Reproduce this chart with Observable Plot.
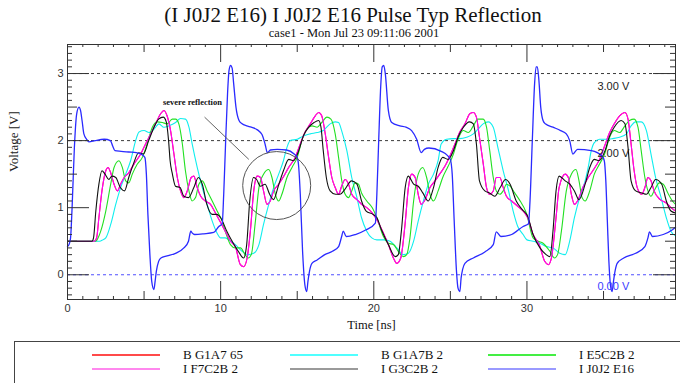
<!DOCTYPE html>
<html><head><meta charset="utf-8">
<script src="https://cdn.jsdelivr.net/npm/d3@7"></script>
<script src="https://cdn.jsdelivr.net/npm/@observablehq/plot@0.6"></script>
<style>
html,body{margin:0;padding:0;background:#fff;}
#wrap{position:relative;width:680px;height:383px;overflow:hidden;background:#fff;}
#wrap svg{position:absolute;left:0;top:0;}
.t{position:absolute;white-space:nowrap;font-family:"Liberation Serif","Times New Roman",serif;color:#111;}
#title{left:0;width:706px;top:4px;text-align:center;font-size:21px;line-height:22px;}
#subtitle{left:0;width:708px;top:27px;text-align:center;font-size:12.5px;line-height:13px;}
#legend{position:absolute;left:14px;top:341px;width:720px;height:80px;border:1px solid #444;box-sizing:border-box;}
.sw{position:absolute;height:2px;width:68px;}
.lt{position:absolute;font-family:"Liberation Serif","Times New Roman",serif;font-size:13px;line-height:14px;color:#111;white-space:nowrap;}
</style></head>
<body><div id="wrap">
<div id="title" class="t">(I J0J2 E16) I J0J2 E16 Pulse Typ Reflection</div>
<div id="subtitle" class="t">case1 - Mon Jul 23 09:11:06 2001</div>
<div id="legend"></div>
</div>
<script>
// ---- data (time ns, voltage V) ----
const seriesBlue = [[0,0.42],[0.1,0.45],[0.2,0.55],[0.3,1.0],[0.45,1.9],[0.6,2.4],[0.75,2.5],[0.85,2.45],[0.95,2.3],[1.07,2.1],[1.25,2.02],[1.4,1.98],[1.8,2.0],[2.4,2.02],[2.8,2.0],[2.95,1.92],[3.1,1.85],[3.5,1.84],[4.0,1.83],[4.5,1.82],[4.8,1.8],[5.05,1.75],[5.15,1.5],[5.25,0.9],[5.38,0.3],[5.5,-0.1],[5.64,-0.22],[5.72,-0.1],[5.8,0.05],[5.95,0.2],[6.1,0.25],[6.5,0.28],[7.05,0.32],[7.6,0.4],[7.9,0.5],[8.05,0.65],[8.15,0.62],[8.3,0.6],[8.9,0.61],[9.55,0.63],[9.88,0.72],[10.1,0.76],[10.2,1.2],[10.32,1.95],[10.45,2.7],[10.55,3.05],[10.65,3.12],[10.75,3.08],[10.85,2.85],[11.0,2.5],[11.2,2.3],[11.4,2.25],[11.7,2.22],[12.0,2.2],[12.4,2.16],[12.7,2.09],[12.9,1.95],[13.05,1.82],[13.25,1.86],[13.7,1.87],[14.3,1.86],[14.8,1.8],[15.0,1.75],[15.1,1.6],[15.2,1.2],[15.35,0.35],[15.5,-0.15],[15.62,-0.25],[15.7,-0.1],[15.8,0.05],[15.96,0.17],[16.3,0.22],[16.8,0.3],[17.3,0.35],[17.7,0.42],[17.9,0.57],[18.0,0.65],[18.2,0.57],[18.8,0.6],[19.5,0.67],[20.1,0.77],[20.2,1.2],[20.32,2.0],[20.45,2.8],[20.55,3.1],[20.65,3.12],[20.75,3.0],[20.95,2.45],[21.17,2.27],[21.7,2.22],[22.1,2.2],[22.47,2.15],[22.8,2.02],[23.1,1.82],[23.3,1.87],[23.6,1.89],[24.4,1.84],[24.8,1.78],[25.0,1.72],[25.12,1.5],[25.25,0.8],[25.4,0.05],[25.5,-0.2],[25.62,-0.25],[25.7,-0.05],[25.8,0.08],[25.95,0.17],[26.5,0.25],[27.25,0.34],[27.8,0.45],[28.0,0.64],[28.3,0.57],[29.0,0.6],[29.75,0.72],[30.1,0.76],[30.2,1.1],[30.35,2.0],[30.5,2.85],[30.6,3.1],[30.68,3.1],[30.78,2.9],[30.9,2.5],[31.05,2.3],[31.2,2.25],[31.7,2.2],[32.2,2.15],[32.57,2.1],[32.79,2.0],[33.0,1.8],[33.3,1.87],[34.2,1.85],[34.9,1.77],[35.05,1.7],[35.15,1.4],[35.25,0.8],[35.35,0.2],[35.45,-0.15],[35.56,-0.25],[35.65,-0.1],[35.75,0.05],[35.89,0.17],[36.32,0.25],[37.1,0.32],[37.7,0.42],[37.9,0.55],[38.0,0.64],[38.2,0.57],[38.9,0.6],[39.5,0.67],[39.7,0.71]];

const seriesBlack = [[0,0.5],[1.6,0.5],[1.7,0.55],[1.85,0.95],[2.05,1.35],[2.25,1.55],[2.45,1.5],[2.7,1.42],[2.9,1.47],[3.15,1.45],[3.45,1.3],[3.72,1.25],[4.0,1.45],[4.3,1.65],[4.65,1.82],[4.95,1.8],[5.3,2.0],[5.65,2.2],[5.95,2.32],[6.25,2.35],[6.45,2.28],[6.6,2.0],[6.7,1.7],[6.85,1.5],[7.05,1.32],[7.35,1.3],[7.6,1.17],[7.9,1.15],[8.25,1.3],[8.55,1.45],[8.8,1.35],[9.1,1.05],[9.45,0.9],[9.75,0.9],[10.0,0.85],[10.4,0.65],[10.75,0.5],[11.15,0.35],[11.5,0.25],[11.7,0.45],[11.9,1.1],[12.15,1.45],[12.35,1.42],[12.6,1.32],[12.9,1.35],[13.2,1.2],[13.45,1.12],[13.8,1.35],[14.1,1.55],[14.45,1.72],[14.75,1.7],[15.1,1.85],[15.4,2.07],[15.75,2.2],[16.1,2.27],[16.4,2.3],[16.55,2.2],[16.7,1.85],[16.9,1.45],[17.15,1.25],[17.5,1.2],[17.8,1.2],[18.1,1.27],[18.55,1.4],[18.9,1.35],[19.2,1.1],[19.5,0.95],[19.95,0.9],[20.2,0.85],[20.5,0.67],[20.95,0.45],[21.4,0.27],[21.6,0.3],[21.8,0.65],[22.05,1.3],[22.25,1.47],[22.6,1.35],[22.9,1.32],[23.2,1.22],[23.55,1.1],[23.9,1.3],[24.2,1.6],[24.5,1.75],[24.85,1.72],[25.2,1.85],[25.5,2.05],[25.85,2.2],[26.25,2.28],[26.5,2.25],[26.7,1.95],[26.9,1.4],[27.25,1.25],[27.55,1.22],[27.9,1.17],[28.25,1.3],[28.6,1.42],[28.9,1.35],[29.3,1.1],[29.7,0.97],[30.05,0.87],[30.4,0.6],[30.85,0.4],[31.25,0.3],[31.5,0.27],[31.7,0.65],[31.9,1.25],[32.1,1.47],[32.5,1.4],[32.8,1.35],[33.1,1.25],[33.4,1.12],[33.8,1.35],[34.1,1.6],[34.4,1.72],[34.7,1.7],[35.1,1.85],[35.4,2.07],[35.7,2.2],[36.15,2.3],[36.4,2.25],[36.6,1.9],[36.8,1.4],[37.1,1.25],[37.5,1.22],[37.8,1.2],[38.1,1.3],[38.4,1.42],[38.8,1.35],[39.1,1.1],[39.4,0.95],[39.7,0.92]];

const seriesMagenta = [[0,0.5],[1.75,0.5],[1.9,0.55],[2.05,0.85],[2.25,1.25],[2.5,1.55],[2.65,1.6],[2.82,1.52],[3.04,1.35],[3.26,1.25],[3.47,1.35],[3.7,1.45],[4.0,1.52],[4.34,1.65],[4.78,1.8],[5.1,1.95],[5.43,2.1],[5.75,2.25],[6.08,2.4],[6.3,2.45],[6.5,2.37],[6.73,2.15],[6.95,1.8],[7.17,1.45],[7.38,1.25],[7.6,1.15],[7.82,1.25],[8.08,1.45],[8.25,1.47],[8.47,1.3],[8.7,1.17],[9.0,1.1],[9.34,1.05],[9.66,0.92],[10.0,0.78],[10.3,0.65],[10.64,0.5],[10.96,0.42],[11.29,0.15],[11.5,0.12],[11.73,0.25],[11.94,0.65],[12.16,1.25],[12.38,1.47],[12.6,1.45],[12.8,1.25],[13.03,1.05],[13.24,1.1],[13.46,1.25],[13.79,1.35],[14.12,1.47],[14.44,1.6],[14.87,1.75],[15.2,1.95],[15.5,2.12],[15.85,2.25],[16.18,2.37],[16.4,2.42],[16.6,2.37],[16.83,2.1],[17.05,1.75],[17.26,1.45],[17.48,1.3],[17.7,1.2],[17.9,1.32],[18.13,1.42],[18.35,1.35],[18.56,1.2],[18.9,1.12],[19.2,1.05],[19.54,1.0],[19.9,0.92],[20.2,0.82],[20.63,0.62],[20.95,0.45],[21.28,0.25],[21.5,0.17],[21.76,0.25],[22.04,0.75],[22.26,1.3],[22.48,1.5],[22.7,1.45],[22.9,1.2],[23.1,1.05],[23.3,1.1],[23.67,1.3],[24.0,1.4],[24.3,1.5],[24.65,1.62],[24.97,1.77],[25.3,1.95],[25.6,2.12],[25.95,2.25],[26.27,2.4],[26.5,2.42],[26.7,2.35],[26.9,2.05],[27.15,1.65],[27.36,1.3],[27.57,1.2],[27.8,1.25],[28.0,1.45],[28.23,1.45],[28.45,1.3],[28.66,1.17],[29.0,1.1],[29.4,1.02],[29.86,0.92],[30.05,0.85],[30.4,0.6],[30.8,0.45],[31.16,0.2],[31.4,0.15],[31.6,0.25],[31.9,0.85],[32.1,1.3],[32.5,1.5],[32.7,1.45],[32.9,1.2],[33.1,1.05],[33.3,1.1],[33.65,1.3],[34.0,1.45],[34.3,1.55],[34.74,1.72],[35.07,1.92],[35.4,2.12],[35.7,2.25],[36.05,2.37],[36.4,2.42],[36.6,2.32],[36.8,1.95],[37.0,1.55],[37.2,1.3],[37.5,1.2],[37.7,1.3],[37.9,1.45],[38.1,1.4],[38.3,1.25],[38.7,1.12],[39.1,1.07],[39.4,1.0],[39.7,0.95]];

const seriesRed = seriesMagenta; // hidden beneath the magenta trace in the reference

const seriesGreen = [[0,0.5],[1.85,0.5],[2.0,0.55],[2.17,0.65],[2.5,0.95],[2.82,1.35],[3.04,1.6],[3.36,1.7],[3.58,1.6],[3.8,1.4],[4.0,1.37],[4.23,1.5],[4.56,1.65],[4.89,1.75],[5.2,1.95],[5.54,2.2],[5.86,2.28],[6.19,2.27],[6.5,2.25],[6.84,2.32],[7.06,2.32],[7.27,2.25],[7.5,1.95],[7.7,1.55],[7.93,1.25],[8.14,1.1],[8.36,1.15],[8.58,1.35],[8.8,1.4],[9.12,1.25],[9.45,1.1],[9.77,0.95],[10.1,0.8],[10.3,0.65],[10.64,0.45],[10.96,0.4],[11.29,0.4],[11.6,0.3],[11.8,0.25],[12.0,0.3],[12.27,0.8],[12.5,1.3],[12.8,1.5],[13.14,1.57],[13.35,1.45],[13.57,1.2],[13.79,1.1],[14.0,1.2],[14.33,1.45],[14.66,1.6],[15.0,1.75],[15.3,2.0],[15.63,2.17],[15.96,2.22],[16.3,2.2],[16.6,2.27],[16.94,2.35],[17.2,2.32],[17.48,2.1],[17.7,1.75],[17.91,1.4],[18.13,1.2],[18.35,1.15],[18.56,1.25],[18.78,1.37],[19.0,1.35],[19.2,1.22],[19.54,1.1],[19.9,1.0],[20.2,0.85],[20.63,0.57],[20.95,0.47],[21.28,0.45],[21.6,0.35],[21.93,0.27],[22.15,0.3],[22.36,0.55],[22.6,1.1],[22.9,1.5],[23.2,1.6],[23.45,1.45],[23.67,1.2],[23.9,1.1],[24.2,1.25],[24.5,1.45],[24.86,1.62],[25.2,1.8],[25.5,2.02],[25.84,2.15],[26.17,2.12],[26.5,2.22],[26.8,2.32],[27.14,2.32],[27.36,2.2],[27.57,1.85],[27.8,1.45],[28.0,1.25],[28.23,1.2],[28.45,1.25],[28.66,1.35],[28.9,1.32],[29.2,1.22],[29.5,1.12],[29.96,0.92],[30.4,0.55],[30.73,0.5],[31.05,0.47],[31.5,0.35],[31.8,0.25],[32.0,0.3],[32.25,0.65],[32.57,1.25],[32.9,1.5],[33.2,1.57],[33.4,1.4],[33.6,1.15],[33.8,1.1],[34.1,1.25],[34.4,1.5],[34.74,1.65],[35.07,1.8],[35.4,2.05],[35.7,2.15],[36.05,2.12],[36.4,2.22],[36.7,2.3],[37.0,2.32],[37.25,2.2],[37.46,1.85],[37.7,1.45],[37.9,1.25],[38.1,1.17],[38.3,1.25],[38.65,1.37],[38.9,1.35],[39.2,1.22],[39.5,1.1],[39.7,1.05]];

const seriesCyan = [[0,0.5],[2.1,0.5],[2.3,0.52],[2.5,0.55],[2.82,0.75],[3.15,1.05],[3.47,1.3],[3.8,1.5],[4.12,1.7],[4.45,2.0],[4.67,2.13],[5.0,2.15],[5.32,2.12],[5.65,2.17],[5.97,2.25],[6.3,2.2],[6.62,2.22],[7.06,2.27],[7.38,2.33],[7.7,2.32],[7.93,2.2],[8.14,1.95],[8.47,1.6],[8.8,1.3],[9.12,1.05],[9.45,0.8],[9.77,0.62],[10.0,0.55],[10.3,0.55],[10.64,0.5],[10.96,0.45],[11.4,0.35],[11.8,0.3],[12.16,0.32],[12.5,0.45],[12.8,0.75],[13.14,1.05],[13.46,1.3],[13.79,1.5],[14.1,1.7],[14.33,1.9],[14.55,2.0],[15.0,2.02],[15.41,2.07],[15.85,2.1],[16.3,2.12],[16.7,2.15],[17.15,2.25],[17.48,2.28],[17.7,2.27],[17.9,2.15],[18.24,1.85],[18.56,1.45],[18.9,1.15],[19.2,0.85],[19.54,0.65],[19.87,0.55],[20.2,0.52],[20.63,0.52],[21.06,0.5],[21.5,0.4],[21.93,0.3],[22.26,0.32],[22.6,0.5],[22.9,0.8],[23.24,1.1],[23.56,1.35],[23.9,1.5],[24.2,1.7],[24.4,1.95],[24.75,2.02],[25.2,2.03],[25.6,2.03],[26.06,2.05],[26.5,2.1],[26.8,2.17],[27.14,2.25],[27.47,2.28],[27.8,2.2],[28.1,1.9],[28.45,1.55],[28.8,1.25],[29.1,0.95],[29.4,0.72],[29.75,0.6],[30.0,0.52],[30.4,0.5],[30.83,0.47],[31.27,0.42],[31.7,0.4],[32.14,0.32],[32.5,0.3],[32.79,0.5],[33.1,0.85],[33.44,1.15],[33.8,1.4],[34.0,1.6],[34.2,1.85],[34.4,1.97],[34.74,2.02],[35.2,2.02],[35.6,2.03],[36.05,2.05],[36.5,2.1],[36.8,2.22],[37.1,2.28],[37.46,2.28],[37.8,2.15],[38.1,1.8],[38.4,1.45],[38.76,1.15],[39.1,0.85],[39.4,0.65],[39.7,0.58]];

const legendNames = ["B G1A7 65","B G1A7B 2","I E5C2B 2","I F7C2B 2","I G3C2B 2","I J0J2 E16"];
const xTickLabels = [0, 10, 20, 30];
const yTickLabels = [0, 1, 2, 3];
const markerLevels = [3, 2];          // black dashed markers
const markerLabels = ["3.00 V", "2.00 V"];
const zeroLevel = [0];
const zeroLabel = ["0.00 V"];
const noteText = ["severe reflection"];
const notePos = [[8.16, 2.57]];
const noteLeader = [[8.95, 2.35, 11.84, 1.72]];
const noteCircle = [[13.66, 1.33]];

// ---- styling ----
const colors = {red:"#ff2020", cyan:"#10eeee", green:"#22e022", magenta:"#ff00ff", black:"#111111", blue:"#2a2aff"};
const legendColors = ["#ff4a4a","#50ffff","#44ee44","#ff88ee","#9a9a9a","#9a9aff"];

const X = d => d[0], Y = d => d[1];
const W = 680, H = 340, mL = 67, mR = 5, mT = 44, mB = 41;
const innerH = H - mT - mB, innerW = W - mL - mR;

const xt = d3.range(0, 40);
const xMinor = xt.filter(d => d % 5 !== 0);
const xMid = xt.filter(d => d % 5 === 0 && d % 10 !== 0);
const xMajor = xt.filter(d => d % 10 === 0 && d > 0);
const yt = d3.range(-3, 35);
const yMinor = yt.filter(i => i % 5 !== 0).map(i => i / 10);
const yMid = yt.filter(i => i % 5 === 0 && i % 10 !== 0).map(i => i / 10);
const yMajor = yt.filter(i => i % 10 === 0).map(i => i / 10);

const tickColor = "#333";
const sansFont = "'Liberation Sans', Arial, sans-serif";
const serifFont = "'Liberation Serif', 'Times New Roman', serif";

function xTicks(data, len) {
  return [
    Plot.tickX(data, {x: d => d, insetTop: innerH - len, stroke: tickColor}),
    Plot.tickX(data, {x: d => d, insetBottom: innerH - len, stroke: tickColor})
  ];
}
function yTicks(data, len) {
  return [
    Plot.tickY(data, {y: d => d, insetRight: innerW - len, stroke: tickColor}),
    Plot.tickY(data, {y: d => d, insetLeft: innerW - len, stroke: tickColor})
  ];
}
const lineOpts = (stroke, w = 1.1) => ({x: X, y: Y, stroke, strokeWidth: w, curve: "monotone-x"});

const chart = Plot.plot({
  width: W, height: H,
  marginLeft: mL, marginRight: mR, marginTop: mT, marginBottom: mB,
  x: {domain: [0, 39.7], axis: null},
  y: {domain: [-0.369, 3.433], axis: null},
  style: {background: "white", fontFamily: sansFont},
  marks: [
    Plot.ruleY(markerLevels, {y: d => d, stroke: "#222", strokeWidth: 0.9, strokeDasharray: "3,3"}),
    Plot.ruleY(zeroLevel, {y: d => d, stroke: "#3a3aff", strokeWidth: 0.9, strokeDasharray: "3,3"}),
    Plot.line(seriesRed, lineOpts(colors.red)),
    Plot.line(seriesCyan, lineOpts(colors.cyan)),
    Plot.line(seriesGreen, lineOpts(colors.green)),
    Plot.line(seriesMagenta, lineOpts(colors.magenta)),
    Plot.line(seriesBlack, lineOpts(colors.black)),
    Plot.line(seriesBlue, lineOpts(colors.blue, 1.3)),
    ...xTicks(xMinor, 3), ...xTicks(xMid, 8), ...xTicks(xMajor, 18),
    ...yTicks(yMinor, 5), ...yTicks(yMid, 10), ...yTicks(yMajor, 22),
    Plot.frame({stroke: tickColor}),
    Plot.text(xTickLabels, {x: d => d, frameAnchor: "bottom", dy: 12, text: d => String(d), fontSize: 11, fill: "#333", fontFamily: sansFont}),
    Plot.text(yTickLabels, {y: d => d, frameAnchor: "left", dx: -10, text: d => String(d), fontSize: 11, fill: "#333", fontFamily: sansFont}),
    Plot.text(["Time [ns]"], {frameAnchor: "bottom", dy: 29, text: d => d, fontSize: 12.5, fill: "#111", fontFamily: serifFont}),
    Plot.text(["Voltage [V]"], {frameAnchor: "left", dx: -54, rotate: -90, text: d => d, fontSize: 13, fill: "#222", fontFamily: serifFont}),
    Plot.text(markerLevels, {x: 35.64, y: d => d, dy: 12.5, text: (d, i) => markerLabels[i], fontSize: 11, fill: "#222", fontFamily: sansFont}),
    Plot.text(zeroLevel, {x: 35.64, y: d => d, dy: 12, text: (d, i) => zeroLabel[i], fontSize: 11, fill: "#3a3aff", fontFamily: sansFont}),
    Plot.text(notePos, {x: X, y: Y, text: (d, i) => noteText[i], fontSize: 8.5, fontWeight: "bold", fill: "#111", fontFamily: serifFont}),
    Plot.link(noteLeader, {x1: d => d[0], y1: d => d[1], x2: d => d[2], y2: d => d[3], stroke: "#555", strokeWidth: 0.9}),
    Plot.dot(noteCircle, {x: X, y: Y, r: 34, fill: "none", stroke: "#555", strokeWidth: 1})
  ]
});
document.getElementById("wrap").insertBefore(chart, document.getElementById("title"));

// legend
const legendSpots = [[92,355],[290,355],[488,355],[92,369],[290,369],[488,369]];
const wrap = document.getElementById("wrap");
legendNames.forEach((name, i) => {
  const [lx, ly] = legendSpots[i];
  const sw = document.createElement("div");
  sw.className = "sw";
  sw.style.left = lx + "px"; sw.style.top = (ly - 1) + "px"; sw.style.background = legendColors[i];
  wrap.appendChild(sw);
  const tx = document.createElement("div");
  tx.className = "lt";
  tx.style.left = (lx + 91) + "px"; tx.style.top = (ly - 7) + "px";
  tx.textContent = name;
  wrap.appendChild(tx);
});
</script>
</body></html>
